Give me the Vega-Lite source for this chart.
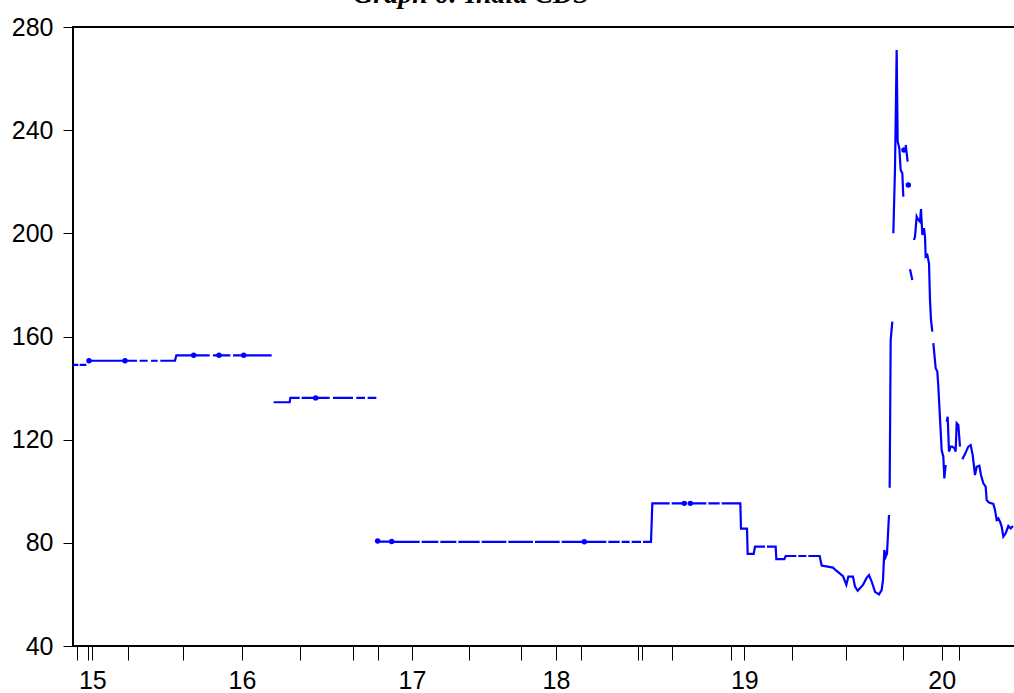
{
  "$schema": "https://vega.github.io/schema/vega-lite/v6.json",
  "autosize": {"type": "none"},
  "padding": {"left": 73, "top": 27, "right": 0, "bottom": 47},
  "width": 942,
  "height": 619,
  "background": "white",
  "title": {
    "text": "Graph 6: India CDS",
    "font": "Liberation Serif",
    "fontSize": 28,
    "fontStyle": "italic",
    "fontWeight": "bold",
    "color": "black",
    "anchor": "middle",
    "frame": "group",
    "dx": -73,
    "offset": -16,
    "baseline": "alphabetic"
  },
  "config": {
    "view": {"stroke": "black", "strokeWidth": 2},
    "axis": {
      "domain": false,
      "grid": false,
      "labelFont": "Liberation Sans",
      "labelFontSize": 25,
      "labelColor": "black",
      "tickColor": "black",
      "tickWidth": 1,
      "title": null
    }
  },
  "datasets": {
    "cds": [
      {"obs": 0, "cds": 149.0}, {"obs": 8, "cds": 149.0}, {"obs": 9, "cds": null},
      {"obs": 10, "cds": 149.0}, {"obs": 20, "cds": 149.0}, {"obs": 22, "cds": null},
      {"obs": 27, "cds": 150.6}, {"obs": 76, "cds": 150.6}, {"obs": 77, "cds": null},
      {"obs": 81, "cds": 150.6}, {"obs": 96, "cds": 150.6}, {"obs": 98, "cds": null},
      {"obs": 100, "cds": 150.6}, {"obs": 112, "cds": 150.6}, {"obs": 114, "cds": null},
      {"obs": 117, "cds": 150.6}, {"obs": 127, "cds": 150.6}, {"obs": 129, "cds": null},
      {"obs": 131, "cds": 150.6}, {"obs": 153, "cds": 150.6}, {"obs": 155, "cds": 152.7}, {"obs": 177, "cds": 152.7}, {"obs": 178, "cds": null},
      {"obs": 184, "cds": 152.7}, {"obs": 205, "cds": 152.7}, {"obs": 207, "cds": null},
      {"obs": 210, "cds": 152.7}, {"obs": 216, "cds": 152.7}, {"obs": 218, "cds": null},
      {"obs": 222, "cds": 152.7}, {"obs": 236, "cds": 152.7}, {"obs": 238, "cds": null},
      {"obs": 240, "cds": 152.7}, {"obs": 252, "cds": 152.7}, {"obs": 254, "cds": null},
      {"obs": 259, "cds": 152.7}, {"obs": 298, "cds": 152.7}, {"obs": 299, "cds": null},
      {"obs": 301, "cds": 134.5}, {"obs": 325, "cds": 134.5}, {"obs": 326, "cds": 136.2}, {"obs": 340, "cds": 136.2}, {"obs": 341, "cds": null},
      {"obs": 343, "cds": 136.2}, {"obs": 360, "cds": 136.2}, {"obs": 362, "cds": null},
      {"obs": 367, "cds": 136.2}, {"obs": 385, "cds": 136.2}, {"obs": 387, "cds": null},
      {"obs": 390, "cds": 136.2}, {"obs": 420, "cds": 136.2}, {"obs": 422, "cds": null},
      {"obs": 425, "cds": 136.2}, {"obs": 438, "cds": 136.2}, {"obs": 440, "cds": null},
      {"obs": 442, "cds": 136.2}, {"obs": 455, "cds": 136.2}, {"obs": 456, "cds": null},
      {"obs": 459, "cds": 80.5}, {"obs": 476, "cds": 80.5}, {"obs": 477, "cds": null},
      {"obs": 480, "cds": 80.4}, {"obs": 520, "cds": 80.4}, {"obs": 521, "cds": null},
      {"obs": 523, "cds": 80.4}, {"obs": 548, "cds": 80.4}, {"obs": 549, "cds": null},
      {"obs": 551, "cds": 80.4}, {"obs": 575, "cds": 80.4}, {"obs": 576, "cds": null},
      {"obs": 578, "cds": 80.4}, {"obs": 610, "cds": 80.4}, {"obs": 611, "cds": null},
      {"obs": 613, "cds": 80.4}, {"obs": 650, "cds": 80.4}, {"obs": 651, "cds": null},
      {"obs": 653, "cds": 80.4}, {"obs": 690, "cds": 80.4}, {"obs": 691, "cds": null},
      {"obs": 693, "cds": 80.4}, {"obs": 730, "cds": 80.4}, {"obs": 731, "cds": null},
      {"obs": 733, "cds": 80.4}, {"obs": 765, "cds": 80.4}, {"obs": 766, "cds": null},
      {"obs": 770, "cds": 80.4}, {"obs": 800, "cds": 80.4}, {"obs": 801, "cds": null},
      {"obs": 803, "cds": 80.4}, {"obs": 820, "cds": 80.4}, {"obs": 821, "cds": null},
      {"obs": 823, "cds": 80.4}, {"obs": 835, "cds": 80.4}, {"obs": 836, "cds": null},
      {"obs": 838, "cds": 80.4}, {"obs": 852, "cds": 80.4}, {"obs": 853, "cds": null},
      {"obs": 855, "cds": 80.4}, {"obs": 867, "cds": 80.4}, {"obs": 869, "cds": 95.3}, {"obs": 895, "cds": 95.3}, {"obs": 896, "cds": null},
      {"obs": 898, "cds": 95.3}, {"obs": 915, "cds": 95.3}, {"obs": 916, "cds": null},
      {"obs": 929, "cds": 95.3}, {"obs": 950, "cds": 95.3}, {"obs": 951, "cds": null},
      {"obs": 953, "cds": 95.3}, {"obs": 970, "cds": 95.3}, {"obs": 971, "cds": null},
      {"obs": 973, "cds": 95.3}, {"obs": 1001, "cds": 95.3}, {"obs": 1002, "cds": 85.5}, {"obs": 1011, "cds": 85.5},
      {"obs": 1012, "cds": 75.7}, {"obs": 1021, "cds": 75.7}, {"obs": 1023, "cds": 78.5}, {"obs": 1038, "cds": 78.5}, {"obs": 1039, "cds": null},
      {"obs": 1041, "cds": 78.5}, {"obs": 1054, "cds": 78.5}, {"obs": 1055, "cds": 73.7}, {"obs": 1067, "cds": 73.7},
      {"obs": 1069, "cds": 74.9}, {"obs": 1085, "cds": 74.9}, {"obs": 1086, "cds": null},
      {"obs": 1088, "cds": 74.9}, {"obs": 1100, "cds": 74.9}, {"obs": 1101, "cds": null},
      {"obs": 1103, "cds": 74.9}, {"obs": 1120, "cds": 74.9}, {"obs": 1123, "cds": 71.2}, {"obs": 1132, "cds": 70.8},
      {"obs": 1140, "cds": 70.4}, {"obs": 1145, "cds": 69.2}, {"obs": 1155, "cds": 67.1}, {"obs": 1160, "cds": 63.7},
      {"obs": 1163, "cds": 66.9}, {"obs": 1170, "cds": 66.9}, {"obs": 1173, "cds": 63.0}, {"obs": 1177, "cds": 61.4},
      {"obs": 1185, "cds": 63.7}, {"obs": 1190, "cds": 66.2}, {"obs": 1194, "cds": 67.5}, {"obs": 1198, "cds": 65.0},
      {"obs": 1203, "cds": 61.0}, {"obs": 1209, "cds": 60.0}, {"obs": 1213, "cds": 61.7}, {"obs": 1215, "cds": 65.6},
      {"obs": 1217, "cds": 77.2}, {"obs": 1219, "cds": 74.6}, {"obs": 1221, "cds": 75.9}, {"obs": 1224, "cds": 90.8}, {"obs": 1224.5, "cds": null},
      {"obs": 1225, "cds": 101.4}, {"obs": 1226.5, "cds": 158.6}, {"obs": 1229, "cds": 165.8}, {"obs": 1229.8, "cds": null},
      {"obs": 1230.5, "cds": 200.0}, {"obs": 1233, "cds": 225.2}, {"obs": 1235.5, "cds": 271.1}, {"obs": 1237, "cds": 235.6},
      {"obs": 1239.5, "cds": 233.0}, {"obs": 1241.5, "cds": 224.6}, {"obs": 1244, "cds": 223.3}, {"obs": 1245.5, "cds": 214.2}, {"obs": 1246, "cds": null},
      {"obs": 1249, "cds": 234.3}, {"obs": 1252, "cds": 227.8}, {"obs": 1252.5, "cds": null},
      {"obs": 1255.5, "cds": 186.1}, {"obs": 1259, "cds": 181.9}, {"obs": 1260, "cds": null},
      {"obs": 1261.5, "cds": 197.4}, {"obs": 1263, "cds": 198.7}, {"obs": 1265.5, "cds": 206.5}, {"obs": 1268, "cds": 205.2},
      {"obs": 1270.5, "cds": 204.5}, {"obs": 1272, "cds": 209.4}, {"obs": 1274, "cds": 199.4}, {"obs": 1276.5, "cds": 202.0},
      {"obs": 1278, "cds": 198.7}, {"obs": 1279, "cds": 191.0}, {"obs": 1281.5, "cds": 191.6}, {"obs": 1284, "cds": 188.4},
      {"obs": 1285.5, "cds": 174.2}, {"obs": 1287, "cds": 166.4}, {"obs": 1289, "cds": 161.9}, {"obs": 1289.8, "cds": null},
      {"obs": 1290.5, "cds": 157.4}, {"obs": 1294, "cds": 147.7}, {"obs": 1296.5, "cds": 146.4}, {"obs": 1298, "cds": 140.5},
      {"obs": 1303, "cds": 116.0}, {"obs": 1305.5, "cds": 113.4}, {"obs": 1307, "cds": 105.0}, {"obs": 1309, "cds": 110.2}, {"obs": 1309.8, "cds": null},
      {"obs": 1310.5, "cds": 127.0}, {"obs": 1312, "cds": 128.9}, {"obs": 1314, "cds": 115.4}, {"obs": 1316.5, "cds": 117.3},
      {"obs": 1319, "cds": 117.3}, {"obs": 1322, "cds": 116.7}, {"obs": 1324, "cds": 115.4}, {"obs": 1325.5, "cds": 126.4},
      {"obs": 1328, "cds": 125.7}, {"obs": 1330.5, "cds": 117.3}, {"obs": 1332, "cds": null},
      {"obs": 1334, "cds": 112.4}, {"obs": 1338, "cds": 114.4}, {"obs": 1343, "cds": 117.3}, {"obs": 1346.5, "cds": 117.9},
      {"obs": 1349.5, "cds": 114.1}, {"obs": 1353, "cds": 106.3}, {"obs": 1355.5, "cds": 109.5}, {"obs": 1359.5, "cds": 109.9},
      {"obs": 1362, "cds": 106.3}, {"obs": 1365.5, "cds": 103.1}, {"obs": 1369, "cds": 101.8}, {"obs": 1370.5, "cds": 96.6},
      {"obs": 1374, "cds": 95.6}, {"obs": 1380.5, "cds": 95.1}, {"obs": 1383, "cds": 92.7}, {"obs": 1385.5, "cds": 88.9},
      {"obs": 1388, "cds": 89.5}, {"obs": 1390.5, "cds": 88.2}, {"obs": 1393, "cds": 86.3}, {"obs": 1395.5, "cds": 82.4},
      {"obs": 1399, "cds": 83.7}, {"obs": 1403, "cds": 86.5}, {"obs": 1406.5, "cds": 85.6}, {"obs": 1410, "cds": 86.5}
    ],
    "iso": [
      {"obs": 24, "cds": 150.6}, {"obs": 78, "cds": 150.6}, {"obs": 181, "cds": 152.7}, {"obs": 219, "cds": 152.7},
      {"obs": 256, "cds": 152.7}, {"obs": 364, "cds": 136.2}, {"obs": 457, "cds": 80.7}, {"obs": 478, "cds": 80.5},
      {"obs": 767, "cds": 80.4}, {"obs": 917, "cds": 95.3}, {"obs": 926, "cds": 95.3}, {"obs": 1246.5, "cds": 232.3},
      {"obs": 1253, "cds": 218.7}
    ]
  },
  "layer": [
    {
      "data": {"name": "cds"},
      "mark": {"type": "line", "color": "#0000FF", "strokeWidth": 2.2, "invalid": "break-paths-filter-domains", "clip": true},
      "encoding": {
        "x": {
          "field": "obs", "type": "quantitative",
          "scale": {"domain": [0, 1413], "nice": false, "zero": false},
          "axis": {
            "values": [6, 22.5, 29, 82.5, 165, 253.5, 340.5, 420, 457.5, 508.5, 594, 672, 724.5, 762, 847.5, 853.5, 898.5, 987, 1007, 1078.5, 1159.5, 1245, 1303, 1329],
            "tickSize": 14,
            "labelPadding": 8,
            "labelOverlap": false,
            "labelFlush": false,
            "labelBound": false,
            "labelExpr": "datum.value == 29 ? '15' : datum.value == 253.5 ? '16' : datum.value == 508.5 ? '17' : datum.value == 724.5 ? '18' : datum.value == 1007 ? '19' : datum.value == 1303 ? '20' : ''",
            "encode": {
              "ticks": {
                "update": {
                  "y2": {"signal": "indexof([82.5, 420, 853.5, 1159.5], datum.value) >= 0 ? 14 : 7"},
                  "opacity": {"signal": "indexof([29, 724.5, 1007, 1303], datum.value) >= 0 ? 0 : 1"}
                }
              }
            }
          }
        },
        "y": {
          "field": "cds", "type": "quantitative",
          "scale": {"domain": [40, 280], "nice": false, "zero": false},
          "axis": {"values": [40, 80, 120, 160, 200, 240, 280], "tickSize": 10, "labelPadding": 10}
        }
      }
    },
    {
      "data": {"name": "iso"},
      "mark": {"type": "point", "filled": true, "color": "#0000FF", "size": 30, "opacity": 1},
      "encoding": {
        "x": {"field": "obs", "type": "quantitative"},
        "y": {"field": "cds", "type": "quantitative"}
      }
    }
  ]
}
